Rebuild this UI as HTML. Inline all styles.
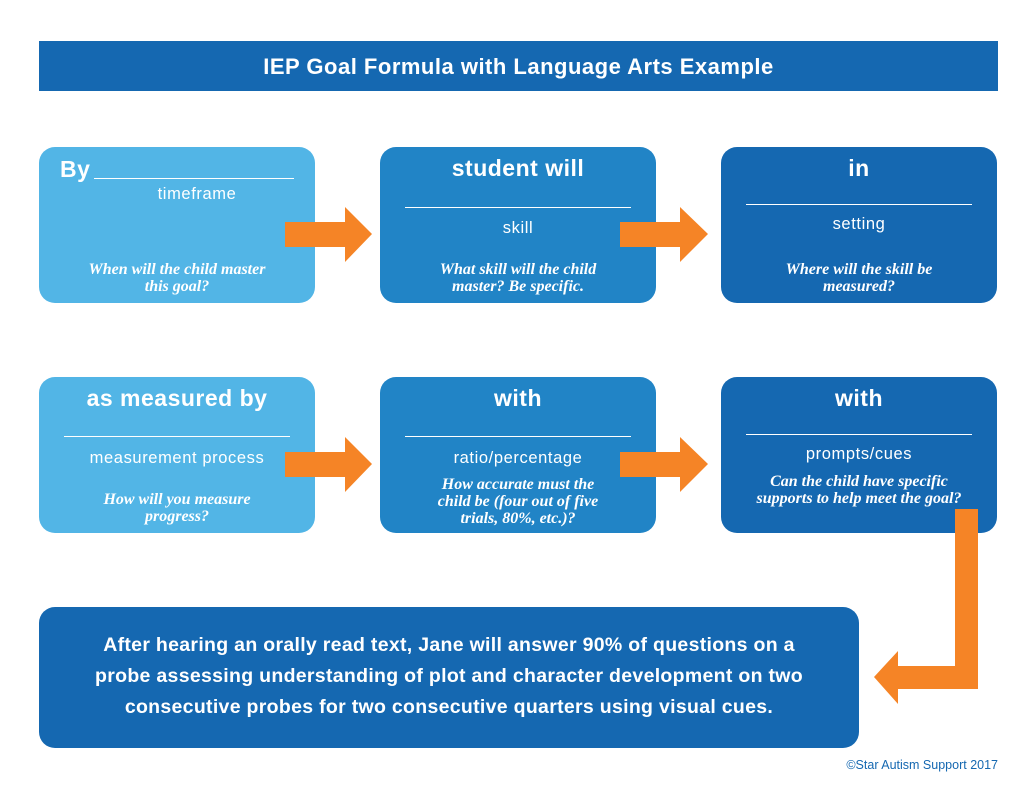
<!DOCTYPE html>
<html><head><style>
body{margin:0;width:1035px;height:803px;background:#fff;position:relative;font-family:"Liberation Sans",sans-serif;overflow:hidden}
.a{position:absolute}
.hdr{left:39px;top:41px;width:959px;height:50px;background:#1568b1;color:#fff;font-weight:bold;font-size:22px;letter-spacing:0.5px;text-align:center;line-height:52px}
.box{position:absolute;width:276px;height:156px;border-radius:16px;color:#fff;text-align:center}
.l{background:#52b5e6}.m{background:#2184c6}.d{background:#1568b1}
.t{position:absolute;left:0;right:0;font-weight:bold;font-size:23px;letter-spacing:0.5px}
.ln{position:absolute;left:25px;right:25px;border-top:1.5px solid #fff}
.s{position:absolute;left:0;right:0;font-size:16.5px;letter-spacing:0.6px}
.q{position:absolute;left:5px;right:5px;font-family:"Liberation Serif",serif;font-style:italic;font-weight:bold;font-size:16px;line-height:17px}
.big{left:39px;top:607px;width:820px;height:141px;background:#1568b1;border-radius:16px;color:#fff;font-weight:bold;font-size:19.5px;letter-spacing:0.3px;line-height:31px;text-align:center;padding-top:23px;box-sizing:border-box}
</style></head><body>
<div class="a hdr">IEP Goal Formula with Language Arts Example</div>

<div class="box l" style="left:39px;top:147px">
<div class="t" style="top:9px;text-align:left;left:21px">By</div><div class="a" style="left:55px;width:200px;top:31px;border-top:1.5px solid #fff"></div>
<div class="s" style="top:38px;left:40px">timeframe</div>
<div class="q" style="top:114px">When will the child master<br>this goal?</div></div>
<div class="box m" style="left:380px;top:147px">
<div class="t" style="top:8px">student will</div><div class="ln" style="top:60px"></div>
<div class="s" style="top:72px">skill</div>
<div class="q" style="top:114px">What skill will the child<br>master? Be specific.</div></div>
<div class="box d" style="left:721px;top:147px">
<div class="t" style="top:8px">in</div><div class="ln" style="top:57px"></div>
<div class="s" style="top:68px">setting</div>
<div class="q" style="top:114px">Where will the skill be<br>measured?</div></div>

<div class="box l" style="left:39px;top:377px">
<div class="t" style="top:8px">as measured by</div><div class="ln" style="top:59px"></div>
<div class="s" style="top:72px">measurement process</div>
<div class="q" style="top:114px">How will you measure<br>progress?</div></div>
<div class="box m" style="left:380px;top:377px">
<div class="t" style="top:8px">with</div><div class="ln" style="top:59px"></div>
<div class="s" style="top:72px">ratio/percentage</div>
<div class="q" style="top:99px">How accurate must the<br>child be (four out of five<br>trials, 80%, etc.)?</div></div>
<div class="box d" style="left:721px;top:377px">
<div class="t" style="top:8px">with</div><div class="ln" style="top:57px"></div>
<div class="s" style="top:68px">prompts/cues</div>
<div class="q" style="top:96px">Can the child have specific<br>supports to help meet the goal?</div></div>

<div class="a big">After hearing an orally read text, Jane will answer 90% of questions on a<br>probe assessing understanding of plot and character development on two<br>consecutive probes for two consecutive quarters using visual cues.</div>

<svg class="a" style="left:0;top:0" width="1035" height="803">
<g fill="#f58426">
<polygon points="285,222 345,222 345,207 372,234 345,262 345,247 285,247"/>
<polygon points="620,222 680,222 680,207 708,234 680,262 680,247 620,247"/>
<polygon points="285,452 345,452 345,437 372,464 345,492 345,477 285,477"/>
<polygon points="620,452 680,452 680,437 708,464 680,492 680,477 620,477"/>
<polygon points="955,509 978,509 978,689 898,689 898,704 874,677 898,651 898,666 955,666"/>
</g></svg>
<div class="a" style="right:37px;top:758px;font-size:12.5px;color:#1568b1">©Star Autism Support 2017</div>
</body></html>
